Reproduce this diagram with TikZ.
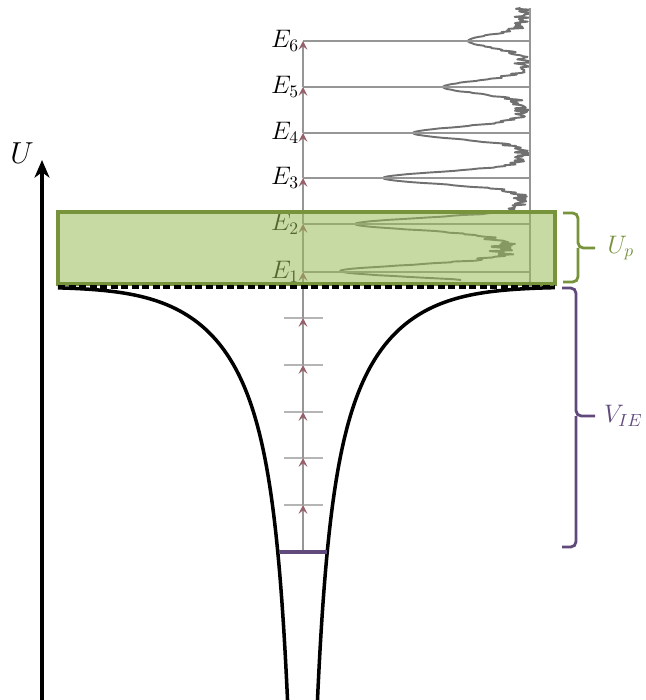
\documentclass[tikz,border=0pt]{standalone}
\usepackage{amsmath}
\usepackage{tikz}
\usetikzlibrary{arrows.meta, positioning}
\definecolor{boxgreen}{RGB}{155,187,89}
\definecolor{edgegreen}{RGB}{119,147,60}
\definecolor{wellpurple}{RGB}{96,74,123}
\definecolor{linegray}{RGB}{150,150,150}
\definecolor{specgray}{RGB}{112,112,112}
\definecolor{tipred}{RGB}{150,95,105}

% line shapes of the spectrum and depth of the well
\pgfmathdeclarefunction{bump}{3}{\pgfmathparse{exp(-((#1-#2)/#3)^2)}}
\pgfmathdeclarefunction{specpeaks}{1}{\pgfmathparse{62*bump(#1,41,8.5)+87*bump(#1,87,8.5)
    +117*bump(#1,133,8.5)+147*bump(#1,178,8.5)+175*bump(#1,224,8.5)+190*bump(#1,271,8.5)}}
\pgfmathdeclarefunction{specweight}{1}{\pgfmathparse{bump(#1,41,8.5)+bump(#1,87,8.5)
    +bump(#1,133,8.5)+bump(#1,178,8.5)+bump(#1,224,8.5)+bump(#1,271,8.5)}}
\pgfmathdeclarefunction{welldepth}{1}{\pgfmathparse{716.7/sqrt((#1/10)^2+0.69)*exp(-((#1/10)^2)/169)}}

\begin{document}
\begin{tikzpicture}[x=0.2mm, y=-0.2mm,
    level/.style={draw=linegray, line width=1pt},
    tick/.style={draw=linegray!70, line width=1pt},
    climb/.style={draw=linegray, line width=1pt,
                  -{Stealth[length=5pt, width=5pt, inset=2pt, color=tipred]}},
    elabel/.style={font=\Large, inner sep=1pt},
    spec/.style={draw=specgray, line width=1.1pt, line join=round},
    upbox/.style={draw=edgegreen, line width=2pt, fill=boxgreen, fill opacity=0.55},
    rim/.style={draw=black, line width=1.8pt, dash pattern=on 4pt off 2pt},
    well/.style={draw=black, line width=2pt},
    floor/.style={draw=wellpurple, line width=1.8pt},
    axis/.style={draw=black, line width=1.8pt, -{Stealth[length=10pt, width=8.5pt, inset=3pt]}},
    upcurly/.style={draw=edgegreen, line width=1.6pt, rounded corners=3pt},
    iecurly/.style={draw=wellpurple, line width=1.6pt, rounded corners=3pt},
]
\useasboundingbox (0,0) rectangle (645,700);

% levels on the centre line
\foreach \k/\yy in {0/552,1/505,2/458,3/412,4/365,5/318,6/272,7/224,8/178,9/133,10/87,11/41}
    \coordinate (l\k) at (303,\yy);

% spectrum
\pgfmathsetseed{12}
\draw[spec] plot[variable=\t, domain=8:280, samples=340]
    ({530 - specpeaks(\t) - (16*rnd + bump(\t,247,19)*(10+28*rnd))*max(0,1-specweight(\t))}, \t);
\coordinate (spectop) at (530,8);
\coordinate (specbot) at (530,283);
\draw[level] (spectop) -- (specbot);

% bound levels E1..E6
\foreach \k/\n in {6/1,7/2,8/3,9/4,10/5,11/6} {
    \draw[level] (l\k) -- ++(227,0);
    \node[elabel, left=1pt of l\k] (e\n) {$E_{\n}$};
}
% levels inside the well
\foreach \k in {1,...,5}
    \draw[tick] (l\k) ++(-19,0) -- ++(39,0);
\foreach \k [count=\j from 1] in {0,...,10}
    \draw[climb] (l\k) -- (l\j);

% ponderomotive band
\draw[upbox] (58,212) rectangle (555,284);

% well
\coordinate (rimL) at (58,287);
\coordinate (rimR) at (555,287);
\draw[rim] (rimL) -- (rimR);
\draw[well] plot[variable=\t, domain=5.50:2.695, samples=90, smooth]
    ({302.5-exp(\t)}, {287+welldepth(exp(\t))});
\draw[well] plot[variable=\t, domain=2.695:5.531, samples=90, smooth]
    ({302.5+exp(\t)}, {287+welldepth(exp(\t))});
\draw[floor] (l0) ++(-24,0) -- ++(48,0);

% axis
\coordinate (axisfoot) at (42,700);
\coordinate (axistop) at (42,160);
\draw[axis] (axisfoot) -- (axistop);
\node[font=\LARGE] (ulab) at (22,153) {$U$};

% braces
\draw[upcurly] (563,213) -- (578,213) -- (578,248) -- (595,248)
    node[right=3pt, text=edgegreen, font=\Large] (up) {$U_p$};
\draw[upcurly] (563,282) -- (578,282) -- (578,248);
\draw[iecurly] (562,288) -- (576,288) -- (576,416) -- (595,416)
    node[right=1pt, text=wellpurple, font=\Large] (vie) {$V_{IE}$};
\draw[iecurly] (562,547) -- (576,547) -- (576,416);
\end{tikzpicture}
\end{document}
